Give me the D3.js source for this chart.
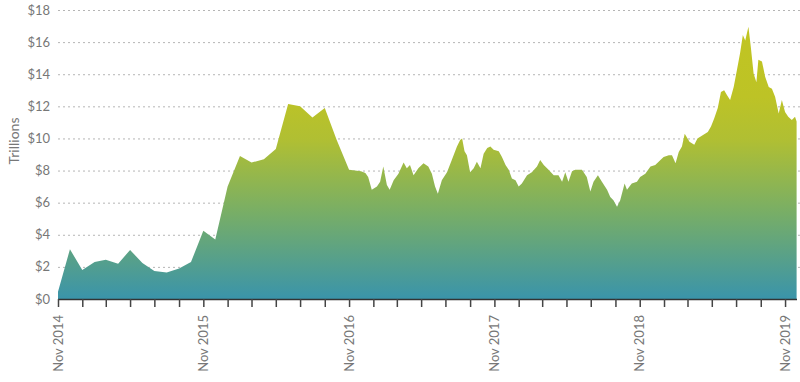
<!DOCTYPE html>
<html><head><meta charset="utf-8">
<script src="https://cdn.jsdelivr.net/npm/d3@7"></script>
<style>
body{margin:0;background:#fff;}
svg{display:block;font-family:Lato,"Open Sans",sans-serif;}
</style></head>
<body><svg id="c" width="800" height="382"></svg>
<script>
// Monthly readings, Nov 2014 – Dec 2016 (trillions USD)
const monthlyDates = ["2014-11-01","2014-12-01","2015-01-01","2015-02-01","2015-03-01","2015-04-01","2015-05-01","2015-06-01","2015-07-01","2015-08-01","2015-09-01","2015-10-01","2015-11-01","2015-12-01","2016-01-01","2016-02-01","2016-03-01","2016-04-01","2016-05-01","2016-06-01","2016-07-01","2016-08-01","2016-09-01","2016-10-01","2016-11-01","2016-12-01"];
const monthlyValues = [0.45,3.1,1.8,2.3,2.45,2.2,3.05,2.25,1.75,1.65,1.9,2.3,4.25,3.7,7.0,8.9,8.5,8.7,9.35,12.15,12.0,11.3,11.9,9.9,8.05,7.95];
// Finer readings, Dec 2016 – Nov 2019
const dailyDates = ["2016-12-12","2016-12-19","2016-12-28","2017-01-10","2017-01-18","2017-01-26","2017-02-04","2017-02-11","2017-02-21","2017-03-05","2017-03-18","2017-03-26","2017-04-03","2017-04-12","2017-04-24","2017-05-07","2017-05-19","2017-05-28","2017-06-05","2017-06-12","2017-06-22","2017-07-05","2017-07-17","2017-07-30","2017-08-07","2017-08-12","2017-08-18","2017-08-24","2017-09-01","2017-09-10","2017-09-18","2017-09-27","2017-10-05","2017-10-14","2017-10-22","2017-10-30","2017-11-12","2017-11-20","2017-11-29","2017-12-07","2017-12-15","2017-12-24","2018-01-01","2018-01-09","2018-01-22","2018-02-03","2018-02-16","2018-02-24","2018-03-05","2018-03-17","2018-03-30","2018-04-11","2018-04-20","2018-04-28","2018-05-06","2018-05-15","2018-05-23","2018-06-09","2018-06-21","2018-06-30","2018-07-08","2018-07-19","2018-07-29","2018-08-11","2018-08-19","2018-08-27","2018-09-05","2018-09-13","2018-09-24","2018-09-30","2018-10-12","2018-10-25","2018-11-02","2018-11-15","2018-11-28","2018-12-10","2018-12-23","2018-12-31","2019-01-13","2019-01-21","2019-01-30","2019-02-07","2019-02-15","2019-02-22","2019-03-06","2019-03-18","2019-03-26","2019-04-08","2019-04-21","2019-04-29","2019-05-07","2019-05-16","2019-05-24","2019-06-01","2019-06-08","2019-06-16","2019-06-25","2019-07-03","2019-07-11","2019-07-18","2019-07-24","2019-08-01","2019-08-07","2019-08-14","2019-08-21","2019-08-26","2019-09-04","2019-09-12","2019-09-21","2019-09-29","2019-10-07","2019-10-16","2019-10-24","2019-11-01","2019-11-09","2019-11-18","2019-11-26","2019-11-30"];
const dailyValues = [7.85,7.6,6.8,7.0,7.3,8.25,7.1,6.8,7.4,7.8,8.5,8.15,8.35,7.7,8.15,8.45,8.25,7.8,7.0,6.55,7.4,7.9,8.65,9.5,9.9,10.0,9.2,8.95,7.9,8.15,8.55,8.15,9.05,9.4,9.5,9.3,9.2,8.85,8.35,8.05,7.5,7.4,7.0,7.2,7.7,7.9,8.25,8.65,8.35,8.05,7.7,7.7,7.3,7.9,7.3,7.95,8.05,8.05,7.6,6.7,7.3,7.7,7.3,6.8,6.35,6.15,5.75,6.15,7.2,6.8,7.2,7.3,7.6,7.8,8.25,8.35,8.65,8.85,8.95,8.95,8.45,9.15,9.5,10.3,9.8,9.6,10.0,10.2,10.4,10.75,11.25,11.9,12.9,13.0,12.7,12.4,13.2,14.25,15.3,16.45,16.1,16.95,15.7,14.05,13.5,14.9,14.8,13.85,13.2,13.1,12.6,11.55,12.4,11.65,11.35,11.15,11.35,11.05];
const yTicks = [0,2,4,6,8,10,12,14,16,18];
const yLabel = "Trillions";

const parse = d3.timeParse("%Y-%m-%d");
const data = monthlyDates.map((d,i)=>({date:parse(d),value:monthlyValues[i]}))
  .concat(dailyDates.map((d,i)=>({date:parse(d),value:dailyValues[i]})));

const svg = d3.select("#c");
const L=58,R=797,T=10,B=299;
const x = d3.scaleTime().domain([parse("2014-11-01"),parse("2019-12-01")]).range([L,R]);
const y = d3.scaleLinear().domain([0,18]).range([B,T]);

const defs = svg.append("defs");
const g = defs.append("linearGradient").attr("id","grad").attr("gradientUnits","userSpaceOnUse")
  .attr("x1",0).attr("x2",0).attr("y1",y(0)).attr("y2",y(18));
[[0,"#3a94aa"],[0.3,"#78ae66"],[0.55,"#b0bf33"],[0.7,"#bdc326"],[1,"#c2c520"]].forEach(s=>g.append("stop").attr("offset",s[0]).attr("stop-color",s[1]));

// grid
svg.append("g").selectAll("line").data(yTicks.filter(t=>t>0)).join("line")
  .attr("x1",L).attr("x2",800).attr("y1",d=>y(d)+0.5).attr("y2",d=>y(d)+0.5)
  .attr("stroke","#b5b5b5").attr("stroke-width",1).attr("stroke-dasharray","2,3");

// area
const area = d3.area().x(d=>x(d.date)).y0(y(0)).y1(d=>y(d.value));
svg.append("path").datum(data).attr("d",area).attr("fill","url(#grad)");

// y labels
svg.append("g").selectAll("text").data(yTicks).join("text")
  .attr("x",50).attr("y",d=>y(d)).attr("dy","0.35em").attr("text-anchor","end")
  .attr("fill","#777").attr("font-size",13).text(d=>"$"+d);
svg.append("text").attr("transform",`translate(19,141) rotate(-90)`).attr("text-anchor","middle")
  .attr("fill","#777").attr("font-size",14).text(yLabel);

// x axis
const monthTicks = x.ticks(d3.timeMonth.every(2));
const xAxis = d3.axisBottom(x).tickValues(monthTicks).tickSize(8).tickFormat("");
const ax = svg.append("g").attr("transform",`translate(0,${B})`).call(xAxis);
ax.select(".domain").attr("stroke","#333").attr("stroke-width",1.5).attr("d",`M${L},0.5H${R}`);
ax.selectAll(".tick line").attr("stroke","#444").attr("stroke-width",1.5);
const majors = monthTicks.filter(d=>d.getMonth()===10);
svg.append("g").selectAll("text").data(majors).join("text")
  .attr("transform",d=>`translate(${x(d)+4.5},315) rotate(-90)`).attr("text-anchor","end")
  .attr("fill","#777").attr("font-size",13).text(d3.timeFormat("%b %Y"));
</script></body></html>
